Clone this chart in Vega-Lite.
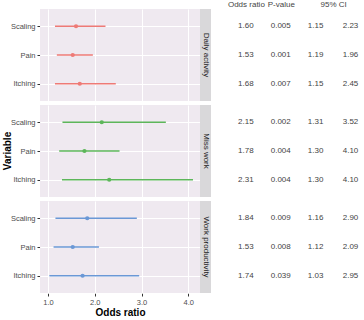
{
  "$schema": "https://vega.github.io/schema/vega-lite/v6.json",
  "padding": {"left": 2, "top": 0, "right": 0, "bottom": 0},
  "data": {
    "values": [
      {"group": "Daily activity", "variable": "Scaling", "odds_ratio": 1.60, "p_value": 0.005, "lower": 1.15, "upper": 2.23, "ci_low_text": "1.15", "ci_high_text": "2.23"},
      {"group": "Daily activity", "variable": "Pain", "odds_ratio": 1.53, "p_value": 0.001, "lower": 1.19, "upper": 1.96, "ci_low_text": "1.19", "ci_high_text": "1.96"},
      {"group": "Daily activity", "variable": "Itching", "odds_ratio": 1.68, "p_value": 0.007, "lower": 1.15, "upper": 2.45, "ci_low_text": "1.15", "ci_high_text": "2.45"},
      {"group": "Miss work", "variable": "Scaling", "odds_ratio": 2.15, "p_value": 0.002, "lower": 1.31, "upper": 3.52, "ci_low_text": "1.31", "ci_high_text": "3.52"},
      {"group": "Miss work", "variable": "Pain", "odds_ratio": 1.78, "p_value": 0.004, "lower": 1.24, "upper": 2.53, "ci_low_text": "1.30", "ci_high_text": "4.10"},
      {"group": "Miss work", "variable": "Itching", "odds_ratio": 2.31, "p_value": 0.004, "lower": 1.30, "upper": 4.10, "ci_low_text": "1.30", "ci_high_text": "4.10"},
      {"group": "Work productivity", "variable": "Scaling", "odds_ratio": 1.84, "p_value": 0.009, "lower": 1.16, "upper": 2.90, "ci_low_text": "1.16", "ci_high_text": "2.90"},
      {"group": "Work productivity", "variable": "Pain", "odds_ratio": 1.53, "p_value": 0.008, "lower": 1.12, "upper": 2.09, "ci_low_text": "1.12", "ci_high_text": "2.09"},
      {"group": "Work productivity", "variable": "Itching", "odds_ratio": 1.74, "p_value": 0.039, "lower": 1.03, "upper": 2.95, "ci_low_text": "1.03", "ci_high_text": "2.95"}
    ]
  },
  "spacing": 0,
  "hconcat": [
    {
      "facet": {
        "row": {
          "field": "group", "type": "nominal",
          "sort": ["Daily activity", "Miss work", "Work productivity"],
          "header": {"title": "Variable", "titleFontSize": 10, "titleFontWeight": "bold", "titleColor": "#000000", "titlePadding": -13, "labelPadding": 0, "labels": false}
        }
      },
      "spacing": {"row": 4},
      "spec": {
        "width": 160,
        "height": 92,
        "view": {"fill": "#EFE9F0", "stroke": null},
        "encoding": {
          "y": {
            "field": "variable", "type": "nominal",
            "sort": ["Scaling", "Pain", "Itching"],
            "scale": {"type": "point", "padding": 0.6},
            "axis": {"title": null, "minExtent": 0, "labelFontSize": 7.5, "labelColor": "#4D4D4D", "tickColor": "#333333", "tickSize": 3, "labelPadding": 2, "domain": false, "grid": true, "gridColor": "#FFFFFF", "gridWidth": 1}
          },
          "color": {
            "field": "group", "type": "nominal",
            "scale": {"domain": ["Daily activity", "Miss work", "Work productivity"], "range": ["#EE7A76", "#5DB65A", "#6A98D6"]},
            "legend": null
          }
        },
        "layer": [
          {
            "mark": {"type": "rule", "strokeWidth": 1.4},
            "encoding": {
              "x": {
                "field": "lower", "type": "quantitative",
                "scale": {"domain": [0.83, 4.25], "nice": false, "zero": false},
                "axis": {
                  "title": "Odds ratio", "titleFontSize": 10, "titleFontWeight": "bold", "titleColor": "#000000", "titlePadding": 2,
                  "values": [1, 1.25, 1.5, 1.75, 2, 2.25, 2.5, 2.75, 3, 3.25, 3.5, 3.75, 4],
                  "labelExpr": "datum.value % 0.5 === 0 ? format(datum.value, '.1f') : ''",
                  "labelFontSize": 7.5, "labelColor": "#4D4D4D", "labelPadding": 2,
                  "tickSize": 3,
                  "tickColor": {"condition": {"test": "datum.value % 0.5 === 0", "value": "#333333"}, "value": "transparent"},
                  "domain": false,
                  "grid": true, "gridColor": "#FFFFFF",
                  "gridWidth": {"condition": {"test": "datum.value % 0.5 === 0", "value": 1}, "value": 0.5}
                }
              },
              "x2": {"field": "upper"}
            }
          },
          {
            "mark": {"type": "point", "filled": true, "size": 18, "opacity": 1},
            "encoding": {"x": {"field": "odds_ratio", "type": "quantitative"}}
          }
        ]
      }
    },
    {
      "facet": {
        "row": {"field": "group", "type": "nominal", "sort": ["Daily activity", "Miss work", "Work productivity"], "header": {"title": null, "labels": false}}
      },
      "spacing": {"row": 4},
      "spec": {
        "width": 11,
        "height": 92,
        "view": {"fill": "#D9D8DA", "stroke": null},
        "transform": [{"filter": "datum.variable === 'Pain'"}],
        "mark": {"type": "text", "angle": 90, "fontSize": 8, "color": "#1A1A1A"},
        "encoding": {"text": {"field": "group"}}
      }
    },
    {
      "facet": {
        "row": {"field": "group", "type": "nominal", "sort": ["Daily activity", "Miss work", "Work productivity"], "header": {"title": null, "labels": false}}
      },
      "spacing": {"row": 4},
      "spec": {
        "width": 150,
        "height": 92,
        "view": {"stroke": null},
        "encoding": {
          "y": {"field": "variable", "type": "nominal", "sort": ["Scaling", "Pain", "Itching"], "scale": {"type": "point", "padding": 0.6}, "axis": null}
        },
        "layer": [
          {
            "mark": {"type": "text", "fontSize": 8, "color": "#444444"},
            "encoding": {
              "x": {
                "datum": 1, "type": "quantitative",
                "scale": {"domain": [0, 4.3], "nice": false, "zero": false},
                "axis": {
                  "orient": "top", "title": null, "values": [1, 2, 3.5],
                  "labelExpr": "datum.value === 1 ? 'Odds ratio' : datum.value === 2 ? 'P-value' : '95% CI'",
                  "labelFontSize": 8, "labelColor": "#444444", "labelPadding": 1,
                  "ticks": false, "domain": false, "grid": false
                }
              },
              "text": {"field": "odds_ratio", "format": ".2f"}
            }
          },
          {
            "mark": {"type": "text", "fontSize": 8, "color": "#444444"},
            "encoding": {"x": {"datum": 2, "type": "quantitative"}, "text": {"field": "p_value", "format": ".3f"}}
          },
          {
            "mark": {"type": "text", "fontSize": 8, "color": "#444444"},
            "encoding": {"x": {"datum": 3, "type": "quantitative"}, "text": {"field": "ci_low_text"}}
          },
          {
            "mark": {"type": "text", "fontSize": 8, "color": "#444444"},
            "encoding": {"x": {"datum": 4, "type": "quantitative"}, "text": {"field": "ci_high_text"}}
          }
        ]
      }
    }
  ],
  "config": {
    "font": "Liberation Sans",
    "view": {"stroke": null},
    "concat": {"spacing": 0}
  }
}
